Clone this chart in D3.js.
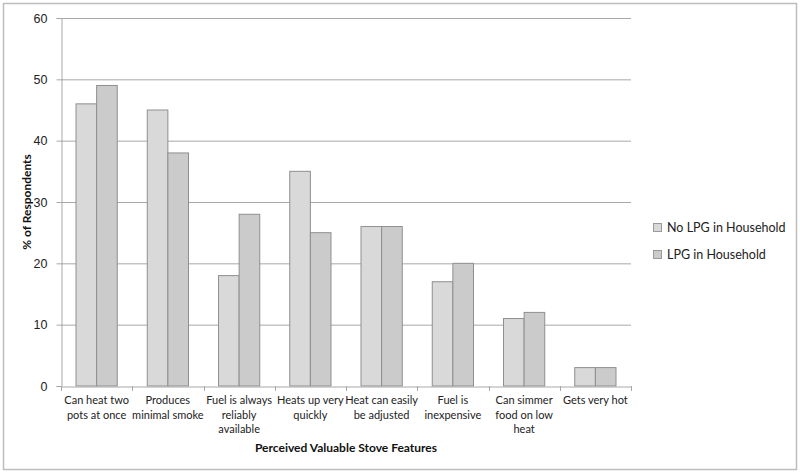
<!DOCTYPE html>
<html>
<head>
<meta charset="utf-8">
<script src="https://cdn.jsdelivr.net/npm/d3@7"></script>
<style>
  body { margin: 0; background: #fff; }
  svg { display: block; font-family: Lato, "Open Sans", sans-serif; }
</style>
</head>
<body>
<svg id="chart"></svg>
<script>
const categories = [
    ["Can heat two", "pots at once"],
    ["Produces", "minimal smoke"],
    ["Fuel is always", "reliably", "available"],
    ["Heats up very", "quickly"],
    ["Heat can easily", "be adjusted"],
    ["Fuel is", "inexpensive"],
    ["Can simmer", "food on low", "heat"],
    ["Gets very hot"]
];
const seriesNames = ["No LPG in Household", "LPG in Household"];
const noLpg = [46, 45, 18, 35, 26, 17, 11, 3];
const lpg = [49, 38, 28, 25, 26, 20, 12, 3];
const yTicks = [0, 10, 20, 30, 40, 50, 60];

function createChart() {
    const width = 800;
    const height = 473;
    const margin = { top: 18, right: 169, bottom: 87, left: 61 };

    const svg = d3.select('#chart')
                  .attr('width', width)
                  .attr('height', height);

    // outer frame
    svg.append('rect')
       .attr('x', 3.5).attr('y', 3.5)
       .attr('width', width - 7).attr('height', height - 7)
       .attr('fill', 'none')
       .attr('stroke', '#bdbdbd')
       .attr('stroke-width', 1.5);

    const idx = d3.range(categories.length);
    const xScale = d3.scaleBand()
                     .domain(idx)
                     .range([margin.left, width - margin.right]);

    const inner = d3.scaleBand()
                    .domain([0, 1])
                    .range([15, xScale.bandwidth() - 15]);

    const yScale = d3.scaleLinear()
                     .domain([0, 60])
                     .range([height - margin.bottom, margin.top]);

    // gridlines
    svg.append('g')
       .selectAll('line')
       .data(yTicks.filter(d => d > 0))
       .enter().append('line')
       .attr('x1', margin.left)
       .attr('x2', width - margin.right)
       .attr('y1', d => yScale(d) + 0.5)
       .attr('y2', d => yScale(d) + 0.5)
       .attr('stroke', '#a8a8a8')
       .attr('stroke-width', 1);

    const colors = ['#d9d9d9', '#cbcbcb'];
    const series = [noLpg, lpg];

    series.forEach((vals, s) => {
        svg.append('g')
           .selectAll('rect')
           .data(vals)
           .enter().append('rect')
           .attr('x', (d, i) => xScale(i) + inner(s))
           .attr('y', d => yScale(d))
           .attr('width', inner.bandwidth())
           .attr('height', d => yScale(0) - yScale(d))
           .attr('fill', colors[s])
           .attr('stroke', '#8f8f8f')
           .attr('stroke-width', 1);
    });

    // y axis
    const yAxis = svg.append('g')
        .attr('transform', `translate(${margin.left + 0.5}, 0)`)
        .call(d3.axisLeft(yScale).tickValues(yTicks).tickSize(5).tickPadding(9));
    yAxis.select('.domain').attr('stroke', '#a8a8a8');
    yAxis.selectAll('.tick line').attr('stroke', '#a8a8a8');
    yAxis.selectAll('.tick text')
         .style('font-size', '12.5px')
         .attr('fill', '#222');

    // x axis
    const xAxis = svg.append('g')
        .attr('transform', `translate(0, ${yScale(0) + 0.5})`)
        .call(d3.axisBottom(xScale).tickSize(0).tickFormat(''));
    xAxis.select('.domain').attr('stroke', '#a8a8a8');

    const tickPos = idx.map(i => xScale(i)).concat([width - margin.right]);
    svg.append('g')
       .selectAll('line')
       .data(tickPos)
       .enter().append('line')
       .attr('x1', d => Math.round(d) + 0.5)
       .attr('x2', d => Math.round(d) + 0.5)
       .attr('y1', yScale(0))
       .attr('y2', yScale(0) + 5)
       .attr('stroke', '#a8a8a8');

    const labels = svg.append('g');
    categories.forEach((lines, i) => {
        const t = labels.append('text')
            .attr('x', xScale(i) + xScale.bandwidth() / 2)
            .attr('y', yScale(0) + 18)
            .attr('text-anchor', 'middle')
            .style('font-size', '11px')
            .attr('fill', '#222');
        lines.forEach((ln, j) => {
            t.append('tspan')
             .attr('x', xScale(i) + xScale.bandwidth() / 2)
             .attr('dy', j === 0 ? 0 : 14.5)
             .text(ln);
        });
    });

    // axis titles
    svg.append('text')
       .attr('x', 346)
       .attr('y', 452)
       .attr('text-anchor', 'middle')
       .style('font-size', '12px')
       .style('font-weight', 'bold')
       .attr('fill', '#111')
       .text('Perceived Valuable Stove Features');

    svg.append('text')
       .attr('transform', `translate(31, ${(yScale(0) + yScale(60)) / 2}) rotate(-90)`)
       .attr('text-anchor', 'middle')
       .style('font-size', '12px')
       .style('font-weight', 'bold')
       .attr('fill', '#111')
       .text('% of Respondents');

    // legend
    const legend = svg.append('g')
                      .attr('transform', 'translate(653, 223)');
    seriesNames.forEach((name, i) => {
        legend.append('rect')
              .attr('x', 0.5)
              .attr('y', i * 27 + 0.5)
              .attr('width', 8)
              .attr('height', 8)
              .attr('fill', colors[i])
              .attr('stroke', '#9a9a9a');
        legend.append('text')
              .attr('x', 14)
              .attr('y', i * 27 + 9)
              .style('font-size', '12.5px')
              .attr('fill', '#222')
              .text(name);
    });
}

createChart();
</script>
</body>
</html>
